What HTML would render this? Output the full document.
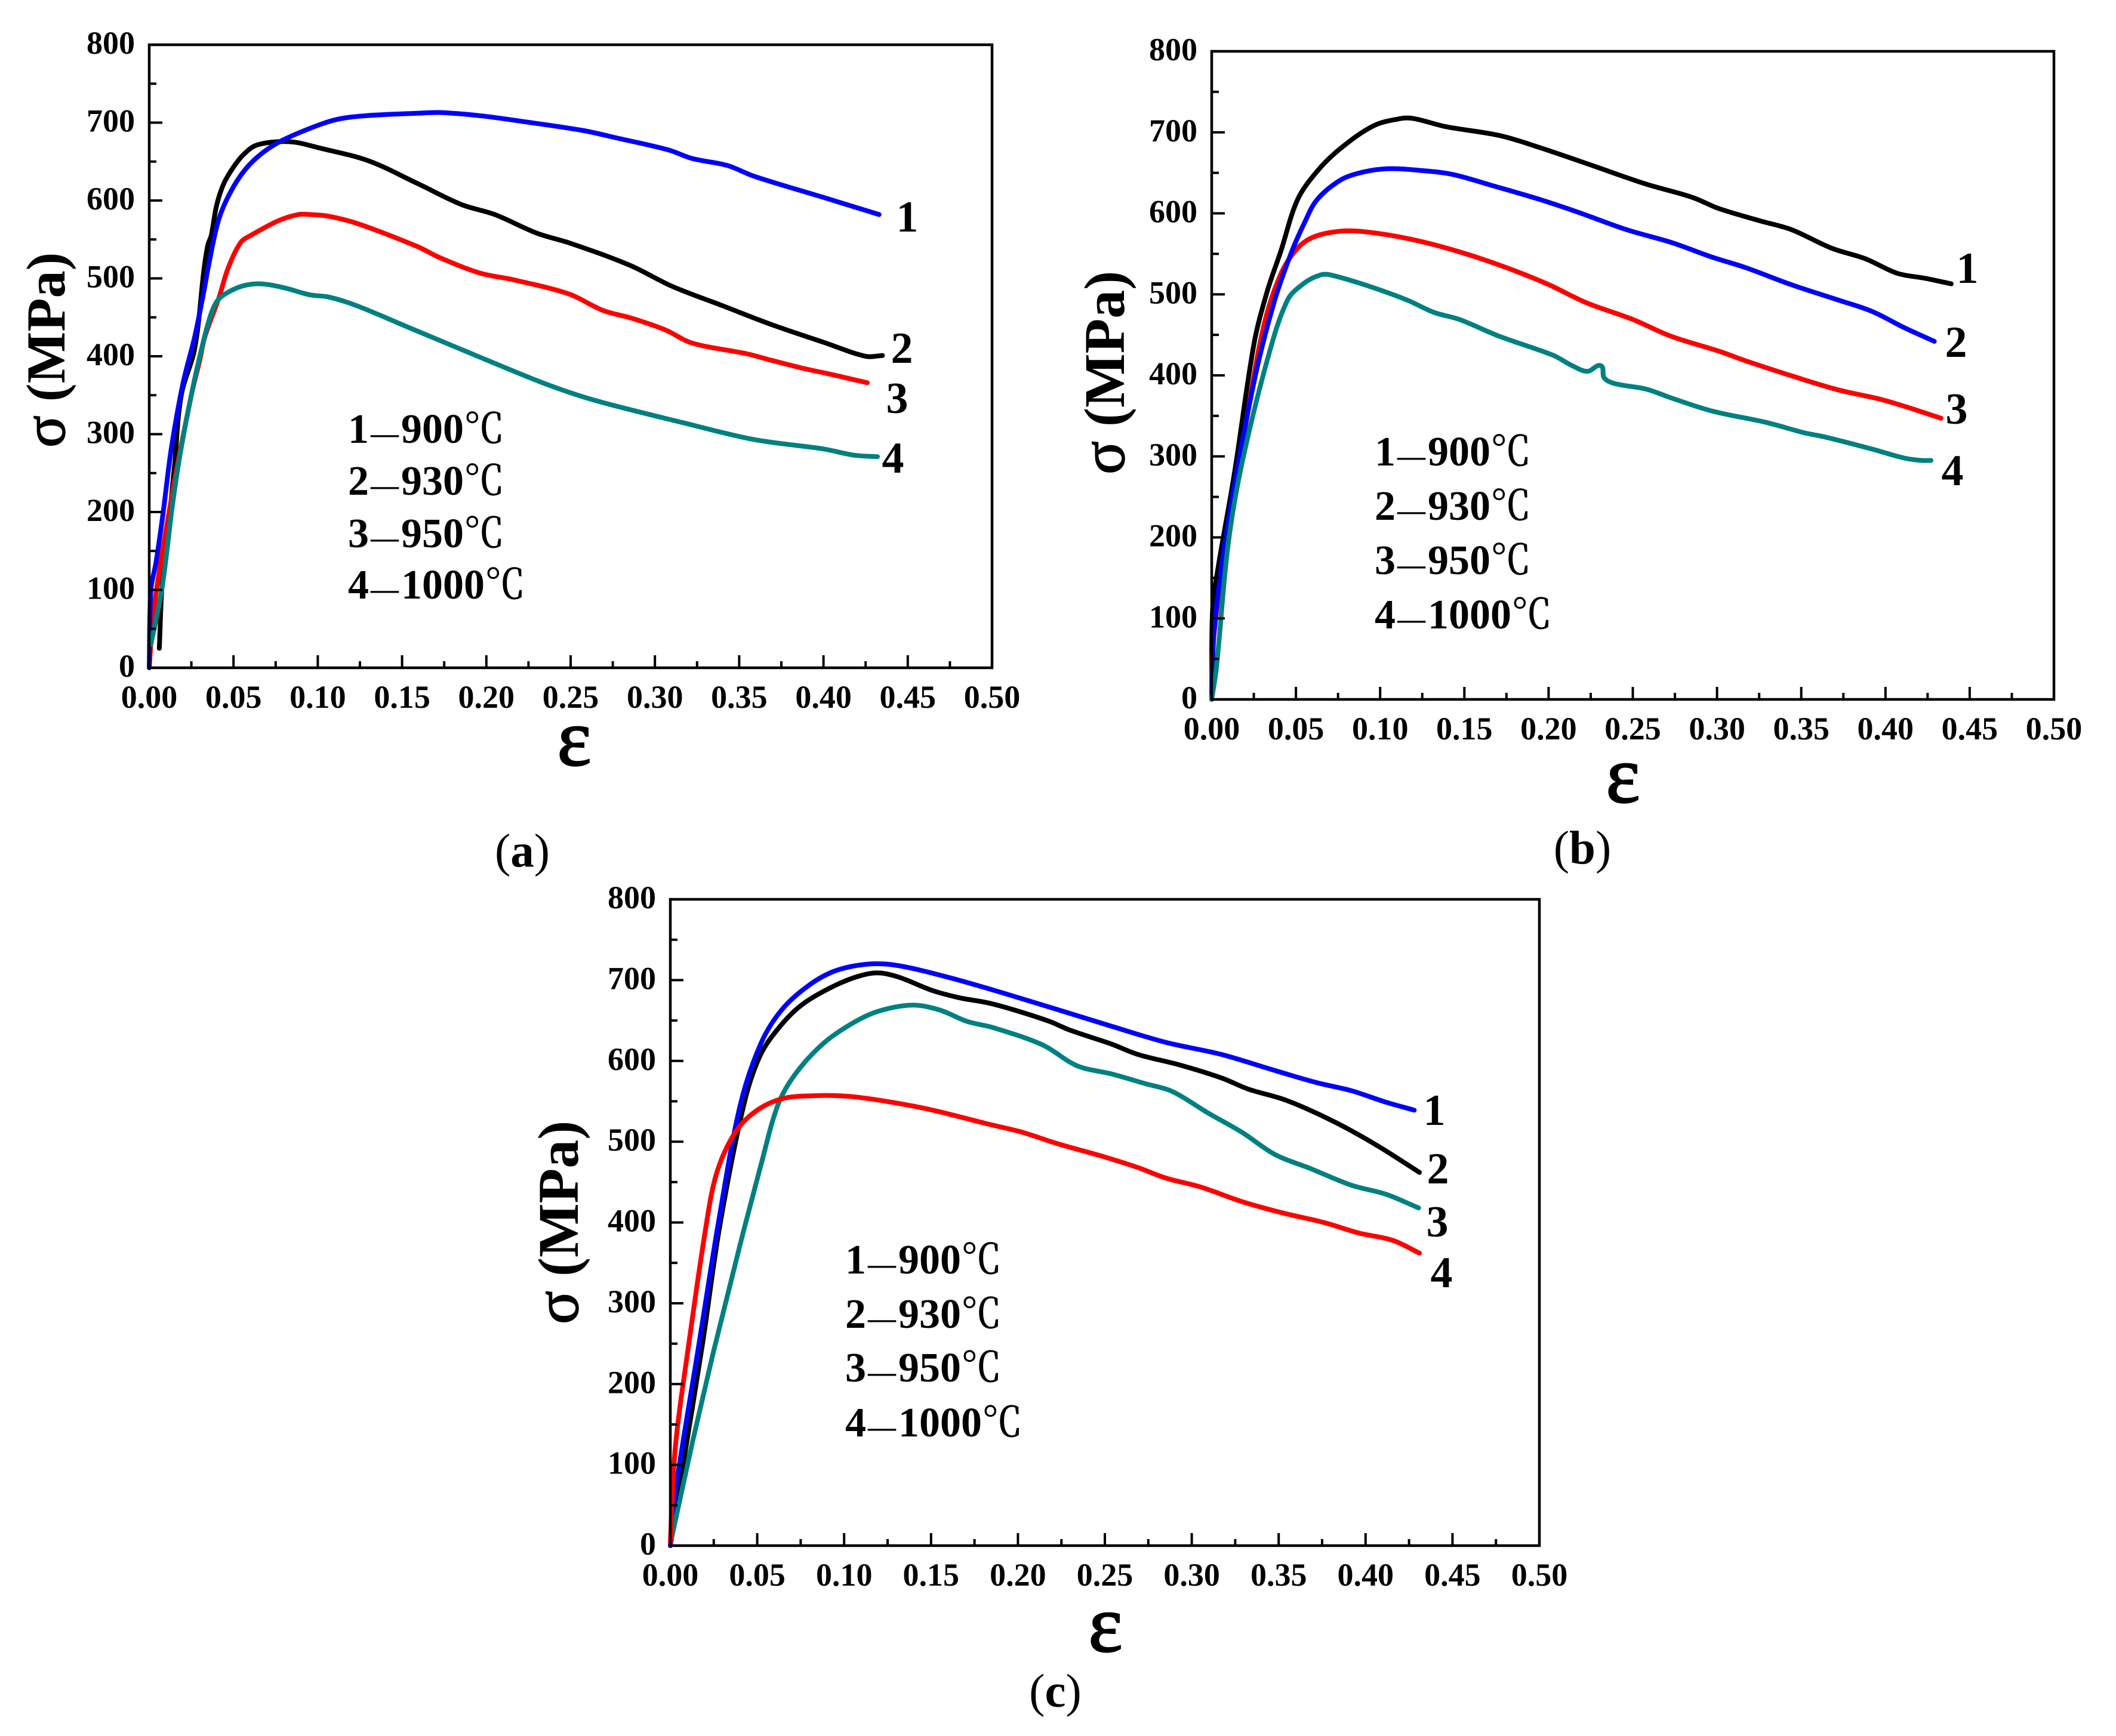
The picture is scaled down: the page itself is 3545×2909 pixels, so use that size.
<!DOCTYPE html>
<html lang="en">
<head>
<meta charset="utf-8">
<title>True stress-strain curves at four temperatures</title>
<style>
html,body{margin:0;padding:0;background:#fff;width:3545px;height:2909px;overflow:hidden}
svg{display:block}
text{font-family:"Liberation Serif","Noto Serif CJK SC",serif;fill:#000}
.b{font-weight:bold}
.sig{font-weight:normal;stroke:#000;stroke-width:1.5px}
.leg{font-weight:bold;font-size:70px}
.dash{font-weight:bold;font-size:47px}
.deg{font-family:"Noto Serif CJK SC","Liberation Serif",serif;font-weight:normal;font-size:68px;stroke:#000;stroke-width:1px}
.end{font-weight:bold;font-size:74px;text-anchor:middle}
.eps{font-weight:normal;font-size:136px;text-anchor:middle;stroke:#000;stroke-width:2.5px}
.cap{font-size:79px;text-anchor:middle}
</style>
</head>
<body>
<svg id="figure" xmlns="http://www.w3.org/2000/svg" width="3545" height="2909" viewBox="0 0 3545 2909">
<rect width="3545" height="2909" fill="#fff"/>

<g id="panel-a">
<text class="b" font-size="92" transform="translate(108,750) rotate(-90)"><tspan class="sig" font-size="100">σ</tspan> (MPa)</text>
<text class="eps" x="962" y="1282">ε</text>
<text class="leg" x="583" y="742">1<tspan class="dash" dx="3">—</tspan><tspan dx="4">900</tspan><tspan class="deg">℃</tspan></text>
<text class="leg" x="583" y="829">2<tspan class="dash" dx="3">—</tspan><tspan dx="4">930</tspan><tspan class="deg">℃</tspan></text>
<text class="leg" x="583" y="917">3<tspan class="dash" dx="3">—</tspan><tspan dx="4">950</tspan><tspan class="deg">℃</tspan></text>
<text class="leg" x="583" y="1003">4<tspan class="dash" dx="3">—</tspan><tspan dx="4">1000</tspan><tspan class="deg">℃</tspan></text>
<text class="end" x="1520" y="388">1</text>
<text class="end" x="1511" y="608">2</text>
<text class="end" x="1503" y="692">3</text>
<text class="end" x="1496" y="792">4</text>
<text class="cap" x="875" y="1452">(<tspan class="b">a</tspan>)</text>
</g>

<g id="panel-b">
<text class="b" font-size="96" transform="translate(1883,795) rotate(-90)"><tspan class="sig" font-size="104">σ</tspan> (MPa)</text>
<text class="eps" x="2719" y="1344">ε</text>
<text class="leg" x="2303" y="780">1<tspan class="dash" dx="3">—</tspan><tspan dx="4">900</tspan><tspan class="deg">℃</tspan></text>
<text class="leg" x="2303" y="871">2<tspan class="dash" dx="3">—</tspan><tspan dx="4">930</tspan><tspan class="deg">℃</tspan></text>
<text class="leg" x="2303" y="962">3<tspan class="dash" dx="3">—</tspan><tspan dx="4">950</tspan><tspan class="deg">℃</tspan></text>
<text class="leg" x="2303" y="1053">4<tspan class="dash" dx="3">—</tspan><tspan dx="4">1000</tspan><tspan class="deg">℃</tspan></text>
<text class="end" x="3296" y="474">1</text>
<text class="end" x="3277" y="598">2</text>
<text class="end" x="3278" y="710">3</text>
<text class="end" x="3271" y="813">4</text>
<text class="cap" x="2651" y="1447">(<tspan class="b">b</tspan>)</text>
</g>

<g id="panel-c">
<text class="b" font-size="96" transform="translate(968,2219) rotate(-90)"><tspan class="sig" font-size="104">σ</tspan> (MPa)</text>
<text class="eps" x="1852" y="2767">ε</text>
<text class="leg" x="1416" y="2134">1<tspan class="dash" dx="3">—</tspan><tspan dx="4">900</tspan><tspan class="deg">℃</tspan></text>
<text class="leg" x="1416" y="2225">2<tspan class="dash" dx="3">—</tspan><tspan dx="4">930</tspan><tspan class="deg">℃</tspan></text>
<text class="leg" x="1416" y="2315">3<tspan class="dash" dx="3">—</tspan><tspan dx="4">950</tspan><tspan class="deg">℃</tspan></text>
<text class="leg" x="1416" y="2407">4<tspan class="dash" dx="3">—</tspan><tspan dx="4">1000</tspan><tspan class="deg">℃</tspan></text>
<text class="end" x="2403" y="1885">1</text>
<text class="end" x="2409" y="1983">2</text>
<text class="end" x="2408" y="2072">3</text>
<text class="end" x="2415" y="2157">4</text>
<text class="cap" x="1768" y="2860">(<tspan class="b">c</tspan>)</text>
</g>
</svg>

<script>
// Axis ticks
const strainTicks = ["0.00","0.05","0.10","0.15","0.20","0.25","0.30","0.35","0.40","0.45","0.50"];
const stressTicks = ["0","100","200","300","400","500","600","700","800"];

// Panel (a)
const aStrain1 = [0,.001,.004,.008,.013,.02,.027,.033,.0348,.041,.048,.057,.0665,.077,.0935,.111,.129,.159,.172,.196,.22,.257,.278,.308,.322,.343,.359,.4,.424,.433];
const aStress1 = [0,100,135,195,280,365,425,490,512,574,610,640,660,675,691,704,709,712,713,709,702,690,680,665,654,645,631,604,588,582];
const aStrain2 = [.006,.0075,.010,.015,.019,.027,.0325,.0348,.0368,.040,.0443,.050,.0555,.0625,.073,.086,.100,.130,.159,.185,.205,.23,.25,.285,.31,.34,.37,.40,.425,.435];
const aStress2 = [25,102,150,260,350,410,512,543,555,594,622,643,658,670,675,675,668,651,622,595,582,558,545,517,490,465,440,418,400,401];
const aStrain3 = [0,.002,.005,.015,.025,.03,.033,.0415,.0466,.0542,.0601,.0766,.0884,.0955,.106,.124,.159,.172,.196,.2165,.249,.269,.286,.306,.322,.355,.367,.387,.404,.426];
const aStress3 = [0,60,110,240,350,395,425,476,512,546,555,574,582,582,580,570,541,527,507,498,480,459,449,434,417,403,396,385,377,366];
const aStrain4 = [.001,.0077,.0136,.018,.024,.03,.036,.04,.045,.055,.066,.08,.095,.1066,.123,.155,.196,.237,.265,.318,.359,.4,.418,.432];
const aStress4 = [30,104,206,270,340,400,450,470,480,490,493,488,479,476,465,436,399,363,343,314,293,281,273,271];

// Panel (b)
const bStrain1 = [0,.0005,.0035,.0134,.0252,.033,.041,.051,.0626,.0764,.096,.112,.12,.139,.171,.195,.226,.258,.285,.301,.325,.344,.368,.388,.407,.423,.439];
const bStress1 = [0,110,159,278,440,504,553,617,652,680,708,717,717,707,696,681,659,636,620,606,591,580,557,544,526,520,513];
const bStrain2 = [0,.0016,.0095,.025,.037,.047,.055,.0626,.0764,.088,.104,.124,.143,.167,.195,.218,.246,.273,.297,.317,.344,.372,.392,.411,.429];
const bStress2 = [0,88,215,391,490,550,588,617,641,650,655,653,648,634,617,601,580,564,546,533,512,493,479,459,442];
const bStrain3 = [0,.0008,.0075,.021,.031,.041,.051,.0607,.0764,.092,.116,.143,.171,.199,.222,.25,.273,.301,.317,.348,.372,.396,.411,.433];
const bStress3 = [0,67,180,349,462,525,557,571,578,577,569,555,536,513,490,469,448,430,418,397,382,371,362,347];
const bStrain4 = [0,.0028,.0095,.0173,.033,.045,.055,.0646,.0705,.092,.116,.1316,.147,.171,.2025,.214,.223,.231,.233,.239,.258,.273,.297,.329,.352,.364,.392,.411,.421,.427];
const bStress4 = [0,39,187,285,419,493,514,524,524,511,493,478,469,448,425,412,405,412,397,390,383,372,356,342,329,324,309,298,295,295];

// Panel (c)
const cStrain1 = [0,.0028,.0166,.0284,.0403,.052,.064,.08,.0956,.115,.131,.159,.19,.222,.2536,.285,.317,.348,.372,.392,.4116,.428];
const cStress1 = [0,65,251,409,546,621,663,694,712,720,718,704,685,664,643,623,608,588,573,563,549,539];
const cStrain2 = [0,.0047,.0186,.0284,.0423,.052,.064,.076,.0916,.107,.119,.131,.151,.1667,.1825,.198,.218,.23,.2536,.269,.293,.317,.3326,.352,.368,.388,.4076,.431];
const cStress2 = [0,65,251,395,546,608,645,670,690,704,709,704,687,678,672,663,649,638,621,608,595,579,565,553,539,518,494,462];
const cStrain3 = [.0008,.0126,.0245,.0403,.052,.062,.072,.0877,.1035,.119,.139,.155,.1706,.186,.214,.234,.2536,.273,.289,.309,.3286,.348,.368,.392,.4116,.4305];
const cStress3 = [10,127,237,374,470,546,584,621,645,661,669,663,649,641,620,594,584,572,562,536,512,484,467,446,435,418];
const cStrain4 = [0,.0028,.0107,.0205,.0265,.0363,.048,.064,.0837,.1035,.127,.151,.1825,.202,.222,.25,.269,.285,.305,.3286,.352,.376,.396,.4155,.431];
const cStress4 = [4,120,251,395,460,508,536,553,557,556,549,539,522,512,498,481,468,455,444,426,412,400,387,378,362];

const SVG_NS = "http://www.w3.org/2000/svg";
const STRAIN_MAX = 0.5, STRESS_MAX = 800;

function make(tag, attrs, parent) {
  const el = document.createElementNS(SVG_NS, tag);
  for (const k in attrs) el.setAttribute(k, attrs[k]);
  parent.appendChild(el);
  return el;
}

// Smooth curve through the mapped points; handles are limited by segment length to avoid overshoot.
function smoothPath(pts) {
  const tangents = pts.map((p, i) => {
    const a = pts[Math.max(i - 1, 0)], b = pts[Math.min(i + 1, pts.length - 1)];
    const dx = b[0] - a[0], dy = b[1] - a[1], len = Math.hypot(dx, dy) || 1;
    return [dx / len, dy / len];
  });
  let d = "M" + pts[0][0].toFixed(1) + " " + pts[0][1].toFixed(1);
  for (let i = 0; i < pts.length - 1; i++) {
    const p = pts[i], q = pts[i + 1];
    const h = Math.hypot(q[0] - p[0], q[1] - p[1]) / 3;
    d += " C" + (p[0] + tangents[i][0] * h).toFixed(1) + " " + (p[1] + tangents[i][1] * h).toFixed(1) +
         " " + (q[0] - tangents[i + 1][0] * h).toFixed(1) + " " + (q[1] - tangents[i + 1][1] * h).toFixed(1) +
         " " + q[0].toFixed(1) + " " + q[1].toFixed(1);
  }
  return d;
}

function drawPanel(id, box, series) {
  const host = document.getElementById("panel-" + id);
  const xAt = v => box.left + (v / STRAIN_MAX) * (box.right - box.left);
  const yAt = v => box.bottom - (v / STRESS_MAX) * (box.bottom - box.top);

  const curves = make("g", {fill:"none","stroke-width":8,"stroke-linejoin":"round","stroke-linecap":"round"}, host);
  
  
  series.forEach(s => {
    const pts = s.strain.map((v, i) => [xAt(v), yAt(s.stress[i])]);
    const path = make("path", {d: smoothPath(pts), stroke: s.color}, curves);
    
    
  });

  const frame = make("rect", {x:box.left, y:box.top, width:box.right-box.left, height:box.bottom-box.top, fill:"none", stroke:"#000", "stroke-width":4.5}, host);
  
  

  const ticks = make("g", {stroke:"#000","stroke-width":4,fill:"none"}, host);
  
  

  const xStep = Number(strainTicks[1]) - Number(strainTicks[0]);
  strainTicks.forEach((lab, i) => {
    const v = Number(lab), x = xAt(v);
    const major = make("line", {x1:x, x2:x, y1:box.bottom, y2:box.bottom-21}, ticks);
    
    
    if (i < strainTicks.length - 1) {
      const xm = xAt(v + xStep / 2);
      const minor = make("line", {x1:xm, x2:xm, y1:box.bottom, y2:box.bottom-11}, ticks);
      
      
    }
    const t = make("text", {x:x, y:box.bottom+67, "text-anchor":"middle", "font-size":54, "font-weight":"bold"}, host);
    
    
    t.textContent = lab;
  });

  const yStep = Number(stressTicks[1]) - Number(stressTicks[0]);
  stressTicks.forEach((lab, i) => {
    const v = Number(lab), y = yAt(v);
    const major = make("line", {x1:box.left, x2:box.left+22, y1:y, y2:y}, ticks);
    
    
    if (i < stressTicks.length - 1) {
      const ym = yAt(v + yStep / 2);
      const minor = make("line", {x1:box.left, x2:box.left+12, y1:ym, y2:ym}, ticks);
      
      
    }
    const t = make("text", {x:box.left-24, y:y+15, "text-anchor":"end", "font-size":54, "font-weight":"bold"}, host);
    
    
    t.textContent = lab;
  });
}

const BLACK = "#000000", BLUE = "#0000ff", RED = "#ff0000", TEAL = "#008080";

drawPanel("a", {left:250, right:1662, top:75, bottom:1119}, [
  {label:"930C", color:BLACK, strain:aStrain2, stress:aStress2},
  {label:"950C", color:RED,   strain:aStrain3, stress:aStress3},
  {label:"900C", color:BLUE,  strain:aStrain1, stress:aStress1},
  {label:"1000C",color:TEAL,  strain:aStrain4, stress:aStress4}
]);
drawPanel("b", {left:2030, right:3441, top:86, bottom:1172}, [
  {label:"900C", color:BLACK, strain:bStrain1, stress:bStress1},
  {label:"950C", color:RED,   strain:bStrain3, stress:bStress3},
  {label:"930C", color:BLUE,  strain:bStrain2, stress:bStress2},
  {label:"1000C",color:TEAL,  strain:bStrain4, stress:bStress4}
]);
drawPanel("c", {left:1123, right:2579, top:1507, bottom:2590}, [
  {label:"930C", color:BLACK, strain:cStrain2, stress:cStress2},
  {label:"900C", color:BLUE,  strain:cStrain1, stress:cStress1},
  {label:"950C", color:TEAL,  strain:cStrain3, stress:cStress3},
  {label:"1000C",color:RED,   strain:cStrain4, stress:cStress4}
]);
</script>
</body>
</html>
